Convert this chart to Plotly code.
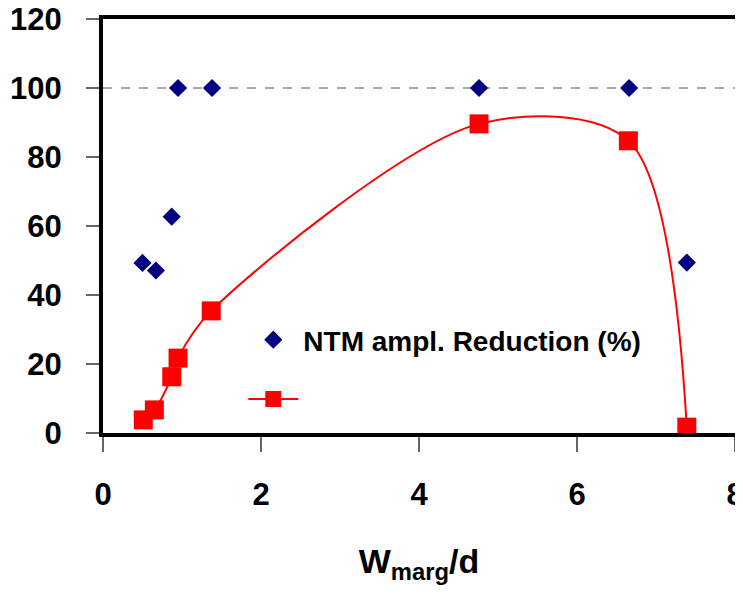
import plotly.graph_objects as go

# NTM amplitude reduction (%) — blue diamonds
ntm_x = [0.50, 0.67, 0.87, 0.95, 1.38, 4.76, 6.66, 7.39]
ntm_y = [49.3, 47.1, 62.7, 100, 100, 100, 100, 49.4]

# Second series — red squares with smoothed line
red_x = [0.51, 0.65, 0.87, 0.95, 1.37, 4.76, 6.65, 7.39]
red_y = [3.8, 6.7, 16.3, 21.7, 35.4, 89.6, 84.7, 1.7]

x_ticks = [0, 2, 4, 6, 8]
y_ticks = [0, 20, 40, 60, 80, 100, 120]
ref_level = 100

FONT = "Liberation Sans, Arial, sans-serif"

fig = go.Figure()
fig.add_trace(go.Scatter(
    x=ntm_x, y=ntm_y, mode="markers", name="<b>NTM ampl. Reduction (%)</b>",
    marker=dict(symbol="diamond", size=14, color="#000080"),
    legendgroup="a",
))
fig.add_trace(go.Scatter(
    x=red_x, y=red_y, mode="lines+markers", name=" ",
    line=dict(color="#FF0000", width=2, shape="spline", smoothing=0.9),
    marker=dict(symbol="square", size=19, color="#FF0000"),
    legendgroup="b",
))

fig.add_shape(type="line", xref="paper", x0=0, x1=1, yref="y", y0=ref_level, y1=ref_level,
              line=dict(color="#555555", width=1, dash="dash"), layer="below")

# page body has an 8px default margin, so the figure is sized to fit inside the window
fig.update_layout(
    width=735, height=588,
    margin=dict(l=95, r=8, t=11, b=163),
    paper_bgcolor="white", plot_bgcolor="white",
    font=dict(family=FONT, color="black"),
    showlegend=True,
    legend=dict(x=0.222, y=0.285, xanchor="left", yanchor="top",
                bgcolor="rgba(0,0,0,0)", font=dict(size=28, family=FONT),
                tracegroupgap=20, traceorder="grouped", itemwidth=50),
    xaxis=dict(range=[0, 8], tickvals=x_ticks, ticktext=[f"<b>{v}</b>" for v in x_ticks],
               showgrid=False, zeroline=False, automargin=False,
               showline=True, linecolor="black", linewidth=4, mirror=True,
               ticks="outside", ticklen=15, tickcolor="#666666", tickwidth=1.5,
               tickfont=dict(size=31, family=FONT), ticklabelstandoff=16,
               ticklabeloverflow="allow",
               title=dict(text="<b>W<sub>marg</sub>/d</b>", font=dict(size=34, family=FONT), standoff=39)),
    yaxis=dict(range=[0, 120], tickvals=y_ticks, ticktext=[f"<b>{v}</b>" for v in y_ticks],
               showgrid=False, zeroline=False, automargin=False,
               showline=True, linecolor="black", linewidth=4, mirror=True,
               ticks="outside", ticklen=13, tickcolor="#666666", tickwidth=1.5,
               tickfont=dict(size=31, family=FONT), ticklabelstandoff=18,
               ticklabeloverflow="allow"),
)

fig.write_html("out.html")
